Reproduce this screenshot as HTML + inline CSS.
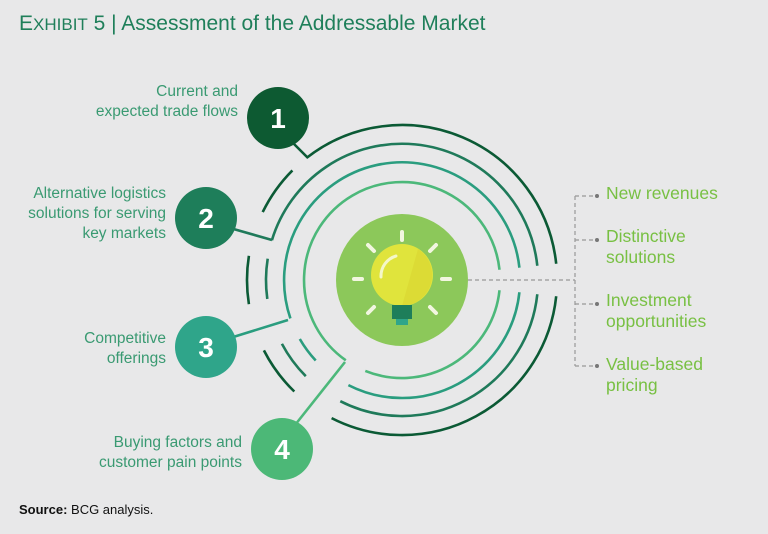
<!DOCTYPE html>
<html><head><meta charset="utf-8"><style>
body{margin:0;width:768px;height:534px;background:#e8e8e9;font-family:"Liberation Sans",sans-serif;overflow:hidden;position:relative}
.t{position:absolute;white-space:nowrap}
.l{color:#3a9a72;font-size:15.5px;line-height:20px;text-align:right}
.r{color:#78c043;font-size:17.5px;line-height:21px;left:606px}
</style></head><body>
<div class="t" style="left:19px;top:12px;font-size:21px;color:#1f7f5a">E<span style="font-size:17px">XHIBIT</span> 5 | Assessment of the Addressable Market</div>
<div class="t l" style="right:530px;top:82px">Current and<br>expected trade flows</div>
<div class="t l" style="right:602px;top:184px">Alternative logistics<br>solutions for serving<br>key markets</div>
<div class="t l" style="right:602px;top:329px">Competitive<br>offerings</div>
<div class="t l" style="right:526px;top:433px">Buying factors and<br>customer pain points</div>
<div class="t r" style="top:183px">New revenues</div>
<div class="t r" style="top:226px">Distinctive<br>solutions</div>
<div class="t r" style="top:290px">Investment<br>opportunities</div>
<div class="t r" style="top:354px">Value-based<br>pricing</div>
<div class="t" style="left:19px;top:502px;font-size:13px;color:#111"><b>Source:</b> BCG analysis.</div>
<svg id="s" width="768" height="534" style="position:absolute;left:0;top:0">
<g stroke="#999" stroke-width="1.2" stroke-dasharray="4,3" fill="none">
<path d="M468 280H575M575 196V366M575 196H595M575 240H595M575 304H595M575 366H595"/>
</g>
<g fill="#777"><circle cx="597" cy="196" r="2"/><circle cx="597" cy="240" r="2"/><circle cx="597" cy="304" r="2"/><circle cx="597" cy="366" r="2"/></g>
<g id="arcs" fill="none" stroke-width="2.6"></g>
<g stroke-width="2.6">
<line x1="290" y1="140" x2="308" y2="158" stroke="#0b5a35"/>
<line x1="230" y1="228" x2="272" y2="240" stroke="#1f7a5a"/>
<line x1="230" y1="338" x2="288" y2="320" stroke="#2a9d7f"/>
<line x1="345" y1="362" x2="295" y2="425" stroke="#4cb87a"/>
</g>
<circle cx="278" cy="118" r="31" fill="#0d5a32"/>
<circle cx="206" cy="218" r="31" fill="#1e7e5a"/>
<circle cx="206" cy="347" r="31" fill="#2fa58a"/>
<circle cx="282" cy="449" r="31" fill="#4cb877"/>
<g fill="#fff" font-size="28" font-weight="bold" text-anchor="middle" font-family="Liberation Sans">
<text x="278" y="128">1</text><text x="206" y="228">2</text><text x="206" y="357">3</text><text x="282" y="459">4</text></g>
<circle cx="402" cy="280" r="66" fill="#8cc85a"/>
<circle cx="402" cy="275" r="31" fill="#e0e43c"/>
<path d="M418 249 A31 31 0 0 1 412 304 L402 306 Z" fill="#d8d530" opacity="0.6"/>
<path d="M381 277 A21 21 0 0 1 396 256" stroke="#f4f7c8" stroke-width="3" fill="none" stroke-linecap="round"/>
<rect x="392" y="305" width="20" height="14" fill="#1e7e5a"/>
<rect x="396" y="319" width="12" height="6" fill="#2fa58a"/>
<g stroke="#f2f6e0" stroke-width="4" stroke-linecap="round">
<line x1="402" y1="232" x2="402" y2="240"/><line x1="354" y1="279" x2="362" y2="279"/><line x1="442" y1="279" x2="450" y2="279"/>
<line x1="368" y1="245" x2="374" y2="251"/><line x1="436" y1="245" x2="430" y2="251"/>
<line x1="368" y1="313" x2="374" y2="307"/><line x1="436" y1="313" x2="430" y2="307"/>
</g>
</svg>
<script>
var cx=402,cy=280,g=document.getElementById('arcs');
function arc(r,a0,a1,c){var p=function(a){a=a*Math.PI/180;return (cx+r*Math.cos(a)).toFixed(1)+' '+(cy+r*Math.sin(a)).toFixed(1)};
var large=((a1-a0+360)%360)>180?1:0;var e=document.createElementNS('http://www.w3.org/2000/svg','path');
e.setAttribute('d','M'+p(a0)+' A'+r+' '+r+' 0 '+large+' 1 '+p(a1));e.setAttribute('stroke',c);g.appendChild(e);}
var A=[[155,'#0b5a35',232,[[134,153],[171,189],[206,225]]],[136,'#1f7a5a',197,[[135,152],[172,189]]],[118,'#2a9d7f',161,[[137,150]]],[98,'#4cb87a',125,[]]];
A.forEach(function(x){var r=x[0],c=x[1];arc(r,x[2],354,c);arc(r,6,r==98?112:117,c);x[3].forEach(function(s){arc(r,s[0],s[1],c)})});
</script>
</body></html>
